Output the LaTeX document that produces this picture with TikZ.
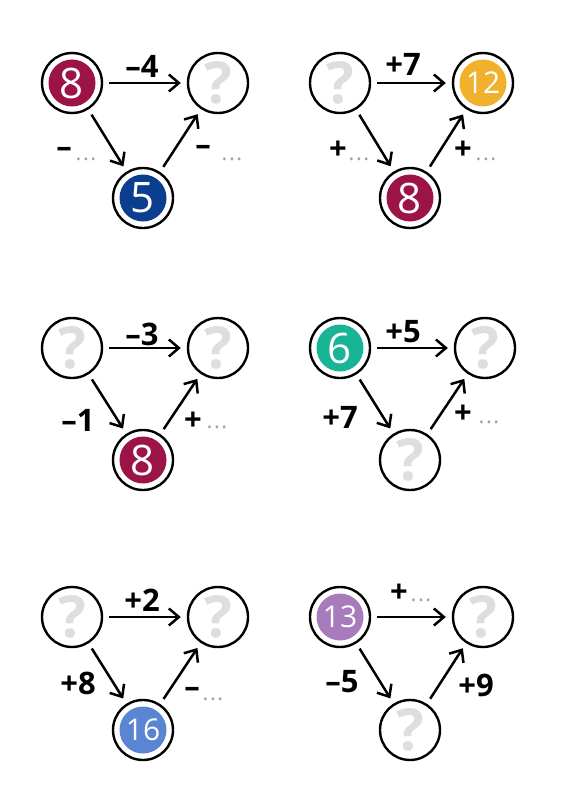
\documentclass[tikz,border=0pt]{standalone}
\usepackage{fontspec}
\setmainfont{Open Sans}
\usetikzlibrary{arrows.meta}
\definecolor{cmaroon}{HTML}{9C1447}
\definecolor{cnavy}{HTML}{0B3E8E}
\definecolor{corange}{HTML}{F0B12C}
\definecolor{cteal}{HTML}{19B496}
\definecolor{cblue}{HTML}{5A85D2}
\definecolor{cpurple}{HTML}{A87BBD}
\definecolor{cq}{HTML}{DEDEDE}
\definecolor{cdots}{HTML}{A0A0A0}
\tikzset{
  ring/.style={circle,draw=black,line width=2.4pt,minimum size=60pt,inner sep=0pt,text=white,font=\fontsize{42}{42}\selectfont},
  filled/.style={ring,path picture={\fill[#1] (path picture bounding box.center) circle (23.5pt);}},
  small/.style={font=\fontsize{30}{30}\selectfont},
  qnode/.style={ring,text=cq,font=\fontsize{58}{58}\selectfont\bfseries},
  link/.style={line width=2.5pt,-{Straight Barb[length=10pt,width=17pt,line width=2.5pt]},shorten <=6pt,shorten >=6pt},
  lab/.style={font=\fontsize{31}{31}\selectfont\bfseries,inner sep=0pt},
  dots/.style={font=\fontsize{22}{22}\selectfont,text=cdots,inner sep=0pt}
}
\newcommand{\mydots}{.\kern1.5pt.\kern1.5pt.}
\begin{document}
\begin{tikzpicture}[x=1pt,y=-1pt]
\useasboundingbox[fill=white] (0,0) rectangle (560,800);
% ---- triangle 1
\node[filled=cmaroon] (a1) at (72,83) {8};
\node[qnode] (b1) at (218,83) {?};
\node[filled=cnavy] (c1) at (143,198) {5};
\draw[link] (a1) -- (b1);
\draw[link] (a1) -- (c1);
\draw[link] (c1) -- (b1);
\node[lab] (t1) at (142,66) {–4};
\node[lab] (l1) at (64,152) {–};
\node[dots] (ld1) at (86,159) {\mydots};
\node[lab] (r1) at (203,150) {–};
\node[dots] (rd1) at (232,159) {\mydots};
% ---- triangle 2
\node[qnode] (a2) at (340,83) {?};
\node[filled=corange,small] (b2) at (483,83) {12};
\node[filled=cmaroon] (c2) at (410,198) {8};
\draw[link] (a2) -- (b2);
\draw[link] (a2) -- (c2);
\draw[link] (c2) -- (b2);
\node[lab] (t2) at (403,64) {+7};
\node[lab] (l2) at (338,150) {+};
\node[dots] (ld2) at (359,159) {\mydots};
\node[lab] (r2) at (463,150) {+};
\node[dots] (rd2) at (486,159) {\mydots};
% ---- triangle 3
\node[qnode] (a3) at (72,348) {?};
\node[qnode] (b3) at (218,348) {?};
\node[filled=cmaroon] (c3) at (143,460) {8};
\draw[link] (a3) -- (b3);
\draw[link] (a3) -- (c3);
\draw[link] (c3) -- (b3);
\node[lab] (t3) at (142,334) {–3};
\node[lab] (l3) at (78,420) {–1};
\node[lab] (r3) at (193,421) {+};
\node[dots] (rd3) at (217,427) {\mydots};
% ---- triangle 4
\node[filled=cteal] (a4) at (340,348) {6};
\node[qnode] (b4) at (485,348) {?};
\node[qnode] (c4) at (410,460) {?};
\draw[link] (a4) -- (b4);
\draw[link] (a4) -- (c4);
\draw[link] (c4) -- (b4);
\node[lab] (t4) at (403,332) {+5};
\node[lab] (l4) at (340,417) {+7};
\node[lab] (r4) at (463,414) {+};
\node[dots] (rd4) at (489,422) {\mydots};
% ---- triangle 5
\node[qnode] (a5) at (72,617) {?};
\node[qnode] (b5) at (218,617) {?};
\node[filled=cblue,small] (c5) at (143,730) {16};
\draw[link] (a5) -- (b5);
\draw[link] (a5) -- (c5);
\draw[link] (c5) -- (b5);
\node[lab] (t5) at (142,600) {+2};
\node[lab] (l5) at (78,683) {+8};
\node[lab] (r5) at (192,692) {–};
\node[dots] (rd5) at (213,699) {\mydots};
% ---- triangle 6
\node[filled=cpurple,small] (a6) at (340,617) {13};
\node[qnode] (b6) at (483,617) {?};
\node[qnode] (c6) at (410,730) {?};
\draw[link] (a6) -- (b6);
\draw[link] (a6) -- (c6);
\draw[link] (c6) -- (b6);
\node[lab] (t6) at (399,593) {+};
\node[dots] (td6) at (421,600) {\mydots};
\node[lab] (l6) at (342,682) {–5};
\node[lab] (r6) at (476,685) {+9};
\end{tikzpicture}
\end{document}
